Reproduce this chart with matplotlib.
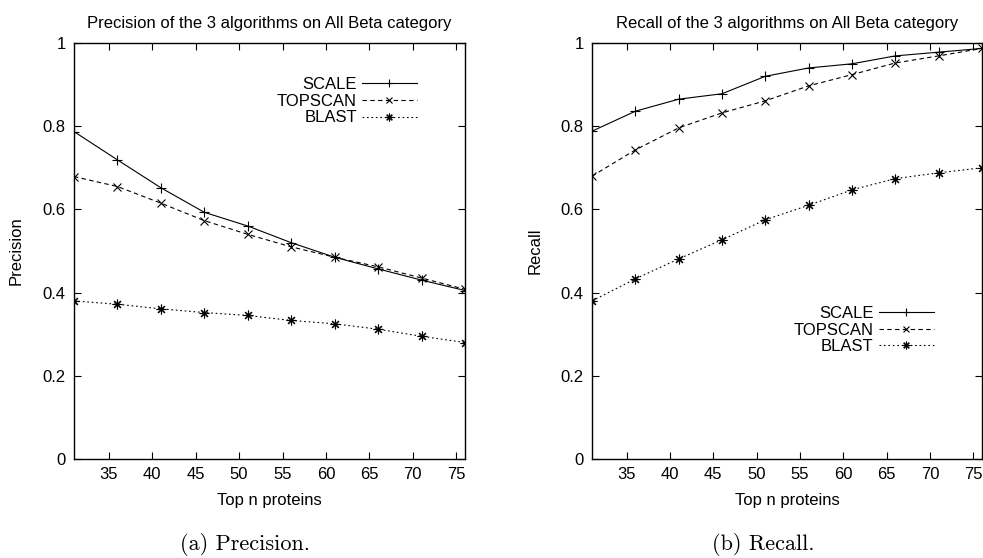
import matplotlib
matplotlib.use("Agg")
import matplotlib.pyplot as plt

# top n proteins
top_n = [31, 36, 41, 46, 51, 56, 61, 66, 71, 76]

precision_scale = [0.787, 0.719, 0.652, 0.593, 0.560, 0.520, 0.485, 0.457, 0.430, 0.405]
precision_topscan = [0.679, 0.655, 0.615, 0.573, 0.540, 0.510, 0.485, 0.462, 0.435, 0.408]
precision_blast = [0.380, 0.372, 0.361, 0.352, 0.345, 0.333, 0.325, 0.312, 0.295, 0.280]

recall_scale = [0.788, 0.836, 0.865, 0.878, 0.920, 0.940, 0.950, 0.969, 0.978, 0.987]
recall_topscan = [0.680, 0.743, 0.796, 0.832, 0.861, 0.897, 0.924, 0.952, 0.969, 0.987]
recall_blast = [0.380, 0.433, 0.481, 0.527, 0.575, 0.610, 0.647, 0.674, 0.688, 0.700]

x_ticks = [35, 40, 45, 50, 55, 60, 65, 70, 75]
y_ticks = [0, 0.2, 0.4, 0.6, 0.8, 1]
y_tick_labels = ["0", "0.2", "0.4", "0.6", "0.8", "1"]

plt.rcParams["font.family"] = ["Liberation Sans", "DejaVu Sans"]
plt.rcParams["font.size"] = 12

fig = plt.figure(figsize=(9.83, 5.58), dpi=100)
W, H = 983.0, 558.0
ax1 = fig.add_axes([74 / W, 1 - 459 / H, 391 / W, 416 / H])
ax2 = fig.add_axes([592 / W, 1 - 459 / H, 390 / W, 416 / H])

star = (8, 2, 0)  # gnuplot-like asterisk


def draw(ax, scale, topscan, blast, title, ylabel, leg_anchor):
    ax.plot(top_n, scale, color="black", lw=0.8, ls="-", marker="+", ms=7,
            mew=0.8, label="SCALE")
    ax.plot(top_n, topscan, color="black", lw=0.8, ls=(0, (4, 3)), marker="x",
            ms=6, mew=0.8, label="TOPSCAN")
    ax.plot(top_n, blast, color="black", lw=0.8, ls=(0, (1.5, 2.5)),
            marker=star, ms=7, mew=0.8, label="BLAST")
    ax.set_xlim(31, 76)
    ax.set_ylim(0, 1)
    ax.set_xticks(x_ticks)
    ax.set_yticks(y_ticks)
    ax.set_yticklabels(y_tick_labels)
    ax.tick_params(direction="in", length=5, width=0.8, top=True, right=True,
                   labelsize=12)
    ax.tick_params(axis="y", pad=6)
    ax.tick_params(axis="x", pad=6)
    for s in ax.spines.values():
        s.set_linewidth(1.0)
    ax.set_title(title, fontsize=12, pad=11)
    ax.set_xlabel("Top n proteins", fontsize=12)
    ax.set_ylabel(ylabel, fontsize=12)
    ax.xaxis.set_label_coords(0.5, -0.0986)
    ax.xaxis.label.set_va("center")
    ax.yaxis.set_label_coords(-0.147, 0.5)
    ax.yaxis.label.set_va("center")
    leg = ax.legend(loc="upper right", bbox_to_anchor=leg_anchor,
                    frameon=False, markerfirst=False, handlelength=3.3,
                    handletextpad=0.3, labelspacing=0.1, borderpad=0,
                    borderaxespad=0, fontsize=12, markerscale=0.8)
    for col in leg._legend_handle_box.get_children():
        col.align = "right"


draw(ax1, precision_scale, precision_topscan, precision_blast,
     "Precision of the 3 algorithms on All Beta category", "Precision",
     (0.877, 0.918))
draw(ax2, recall_scale, recall_topscan, recall_blast,
     "Recall of the 3 algorithms on All Beta category", "Recall",
     (0.876, 0.368))

fig.text(245 / W, 1 - 545 / H, "(a) Precision.", family="cmr10", fontsize=16,
         ha="center", va="center")
fig.text(763 / W, 1 - 545 / H, "(b) Recall.", family="cmr10", fontsize=16,
         ha="center", va="center")

fig.savefig("out.png", dpi=100)
